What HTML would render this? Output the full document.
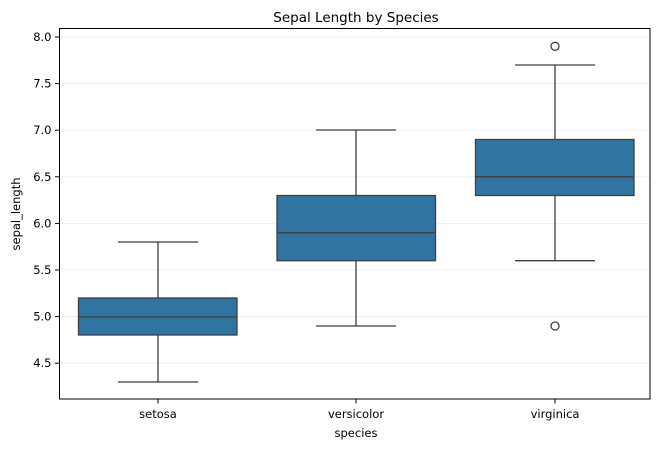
<!DOCTYPE html>
<html><head><style>body{margin:0;background:#fff}</style></head><body>
<svg width="663" height="449" xmlns="http://www.w3.org/2000/svg" font-family="DejaVu Sans, Liberation Sans, sans-serif">
<rect width="663" height="449" fill="#fff"/>
<g stroke="#ebebeb" stroke-width="0.8">
<line x1="59.5" x2="650" y1="37" y2="37"/><line x1="59.5" x2="650" y1="83.6" y2="83.6"/>
<line x1="59.5" x2="650" y1="130.2" y2="130.2"/><line x1="59.5" x2="650" y1="176.8" y2="176.8"/>
<line x1="59.5" x2="650" y1="223.4" y2="223.4"/><line x1="59.5" x2="650" y1="270" y2="270"/>
<line x1="59.5" x2="650" y1="316.6" y2="316.6"/><line x1="59.5" x2="650" y1="363.2" y2="363.2"/>
</g>
<g stroke="#3f3f3f" stroke-width="1.3" fill="#3274a1">
<line x1="158" x2="158" y1="242" y2="298"/><line x1="158" x2="158" y1="335" y2="382"/>
<line x1="118" x2="198" y1="242" y2="242"/><line x1="118" x2="198" y1="382" y2="382"/>
<rect x="78.5" y="298" width="158.5" height="37"/><line x1="78.5" x2="237" y1="317" y2="317"/>
<line x1="356" x2="356" y1="130" y2="195.5"/><line x1="356" x2="356" y1="260.7" y2="326"/>
<line x1="316" x2="396" y1="130" y2="130"/><line x1="316" x2="396" y1="326" y2="326"/>
<rect x="277" y="195.5" width="158.5" height="65.2"/><line x1="277" x2="435.5" y1="232.7" y2="232.7"/>
<line x1="555" x2="555" y1="65" y2="139.5"/><line x1="555" x2="555" y1="195.5" y2="260.7"/>
<line x1="515" x2="595" y1="65" y2="65"/><line x1="515" x2="595" y1="260.7" y2="260.7"/>
<rect x="475.5" y="139.5" width="158.5" height="56"/><line x1="475.5" x2="634" y1="176.8" y2="176.8"/>
<circle cx="555" cy="46.3" r="4" fill="none"/><circle cx="555" cy="326" r="4" fill="none"/>
</g>
<rect x="59.5" y="28.5" width="590.5" height="370.5" fill="none" stroke="#000" stroke-width="1"/>
<g stroke="#000" stroke-width="1">
<line x1="55" x2="59.5" y1="37" y2="37"/><line x1="55" x2="59.5" y1="83.6" y2="83.6"/>
<line x1="55" x2="59.5" y1="130.2" y2="130.2"/><line x1="55" x2="59.5" y1="176.8" y2="176.8"/>
<line x1="55" x2="59.5" y1="223.4" y2="223.4"/><line x1="55" x2="59.5" y1="270" y2="270"/>
<line x1="55" x2="59.5" y1="316.6" y2="316.6"/><line x1="55" x2="59.5" y1="363.2" y2="363.2"/>
<line x1="158" x2="158" y1="399" y2="403.5"/><line x1="356" x2="356" y1="399" y2="403.5"/><line x1="555" x2="555" y1="399" y2="403.5"/>
</g>
<g font-size="11.5" fill="#000" text-anchor="end">
<text x="51.5" y="41">8.0</text><text x="51.5" y="87.6">7.5</text><text x="51.5" y="134.2">7.0</text>
<text x="51.5" y="180.8">6.5</text><text x="51.5" y="227.4">6.0</text><text x="51.5" y="274">5.5</text>
<text x="51.5" y="320.6">5.0</text><text x="51.5" y="367.2">4.5</text>
</g>
<g font-size="11.5" fill="#000" text-anchor="middle">
<text x="158" y="418">setosa</text><text x="356" y="418">versicolor</text><text x="555" y="418">virginica</text>
<text x="356" y="437">species</text>
<text x="356" y="22" font-size="13.5">Sepal Length by Species</text>
<text transform="translate(20,214) rotate(-90)">sepal_length</text>
</g>
</svg>
</body></html>
